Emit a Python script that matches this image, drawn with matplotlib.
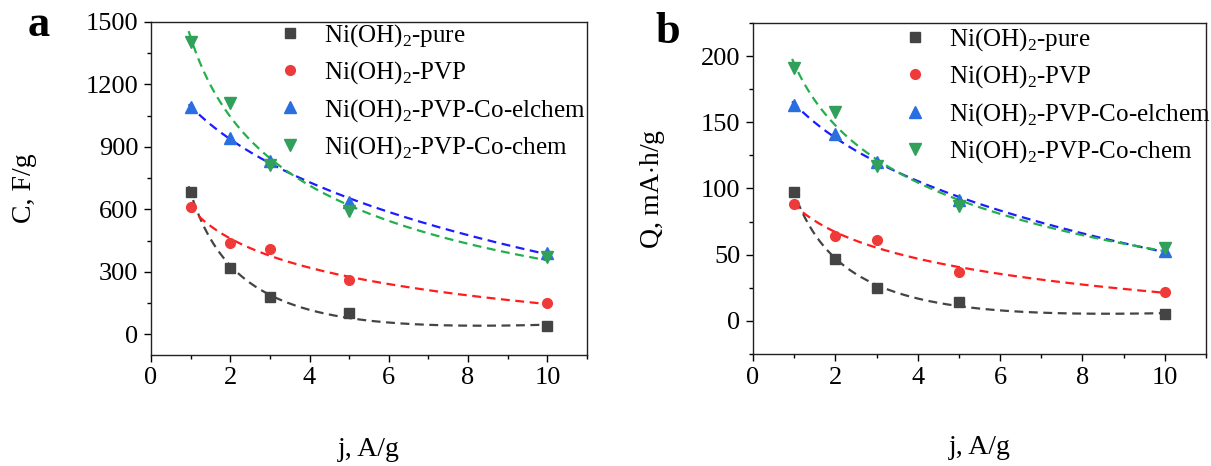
import numpy as np
import matplotlib
matplotlib.use("Agg")
import matplotlib.pyplot as plt
from matplotlib.ticker import MultipleLocator

plt.rcParams['font.family'] = ['Liberation Serif', 'DejaVu Serif']
plt.rcParams['mathtext.fontset'] = 'custom'
plt.rcParams['mathtext.rm'] = 'Liberation Serif'

# ---- data ----
j = [1, 2, 3, 5, 10]
labels = [r'Ni(OH)$_\mathregular{2}$-pure', r'Ni(OH)$_\mathregular{2}$-PVP',
          r'Ni(OH)$_\mathregular{2}$-PVP-Co-elchem', r'Ni(OH)$_\mathregular{2}$-PVP-Co-chem']

C_pure = [685, 320, 178, 100, 38]
C_pvp = [610, 438, 410, 258, 148]
C_elchem = [1090, 945, 830, 635, 390]
C_chem = [1405, 1110, 815, 590, 370]

Q_pure = [97, 47, 25, 14, 5]
Q_pvp = [88, 64, 61, 37, 22]
Q_elchem = [163, 141, 120, 91, 53]
Q_chem = [191, 158, 117, 87, 55]

marker_colors = ['#444444', '#ef3a3a', '#2a6fe0', '#30a05a']
line_colors = ['#444444', '#ff1c1c', '#1c1cff', '#22b04a']
markers = ['s', 'o', '^', 'v']
msizes = [6.5, 7, 8, 8]


def trend_fit(x, y):
    # least-squares quadratic in ln(x)
    x = np.asarray(x, float)
    y = np.asarray(y, float)
    coef = np.polyfit(np.log(x), y, 2)
    xs = np.linspace(x.min() - 0.05, x.max(), 200)
    return xs, np.polyval(coef, np.log(xs))


fig = plt.figure(figsize=(12.11, 4.66), dpi=100)
W, H = 1211, 466
axa = fig.add_axes([151 / W, 1 - 355 / H, 436 / W, (355 - 22) / H])
axb = fig.add_axes([753 / W, 1 - 354 / H, 453 / W, (354 - 23) / H])

panels = [
    (axa, [C_pure, C_pvp, C_elchem, C_chem], 'C, F/g', (-100, 1500), 300, 150, -0.262, (0.29, 1.0)),
    (axb, [Q_pure, Q_pvp, Q_elchem, Q_chem], r'Q, mA$\cdot$h/g', (-25, 225), 50, 25, -0.19, (0.33, 0.99)),
]

for ax, series, ylab, ylim, ymaj, ymin_, ylx, lpos in panels:
    handles = []
    for k, ys in enumerate(series):
        xs, fit = trend_fit(j, ys)
        ax.plot(xs, fit, color=line_colors[k], lw=1.6, dashes=(4, 2.5), zorder=2)
        h, = ax.plot(j, ys, linestyle='none', marker=markers[k], ms=msizes[k],
                     color=marker_colors[k], mec=marker_colors[k], zorder=3)
        handles.append(h)
    ax.set_xlim(0, 11)
    ax.set_ylim(*ylim)
    ax.xaxis.set_major_locator(MultipleLocator(2))
    ax.xaxis.set_minor_locator(MultipleLocator(1))
    ax.yaxis.set_major_locator(MultipleLocator(ymaj))
    ax.yaxis.set_minor_locator(MultipleLocator(ymin_))
    ax.tick_params(which='major', direction='out', length=5, width=1, labelsize=19, pad=4)
    ax.tick_params(which='minor', direction='out', length=3, width=1)
    for s in ax.spines.values():
        s.set_linewidth(1.0)
        s.set_color('#222222')
    ax.set_xlabel('j, A/g', fontsize=20)
    ax.xaxis.set_label_coords(0.5, -0.245)
    ax.set_ylabel(ylab, fontsize=20)
    ax.yaxis.set_label_coords(ylx, 0.5)
    ax.legend(handles, labels, loc='upper left', bbox_to_anchor=lpos,
              frameon=False, fontsize=18, handlelength=1.0, handletextpad=0.85,
              labelspacing=0.42, borderaxespad=0, borderpad=0.0)

fig.text(28 / W, 1 - 36 / H, 'a', fontsize=32, fontweight='bold', va='baseline')
fig.text(655 / W, 1 - 43 / H, 'b', fontsize=32, fontweight='bold', va='baseline')

fig.savefig('out.png', dpi=100)
